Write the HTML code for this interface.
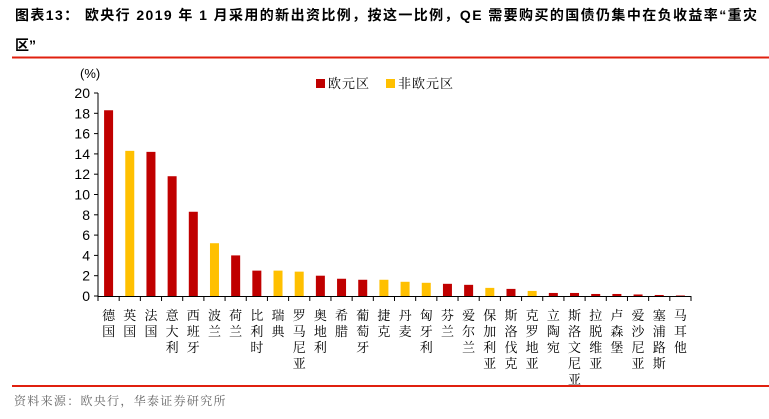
<!DOCTYPE html>
<html><head><meta charset="utf-8"><style>
body{margin:0;background:#fff;width:769px;height:419px;overflow:hidden}
svg{display:block}
</style></head><body>
<svg width="769" height="419" font-family="'Liberation Sans','Noto Sans CJK SC',sans-serif">
<text x="15" y="20" font-size="14" font-weight="bold" fill="#000" textLength="742" lengthAdjust="spacing">图表13：  欧央行 2019 年 1 月采用的新出资比例，按这一比例，QE 需要购买的国债仍集中在负收益率“重灾</text>
<text x="15" y="50" font-size="14" font-weight="bold" fill="#000">区”</text>
<line x1="12" y1="57.5" x2="769" y2="57.5" stroke="#e0200f" stroke-width="2"/>
<text x="80" y="78" font-size="13">(%)</text>
<g id="legend">
<rect x="316" y="79" width="9" height="9" fill="#c00000"/>
<text x="328" y="88" font-size="13" letter-spacing="1" font-family="'Liberation Serif','Noto Serif CJK SC',serif">欧元区</text>
<rect x="386" y="79" width="9" height="9" fill="#ffc000"/>
<text x="398" y="88" font-size="13" letter-spacing="1" font-family="'Liberation Serif','Noto Serif CJK SC',serif">非欧元区</text>
</g>
<g id="plot"></g>
<line x1="12" y1="386" x2="769" y2="386" stroke="#e0200f" stroke-width="2"/>
<text x="14" y="405" font-size="12" fill="#666" letter-spacing="1.3" font-family="'Liberation Serif','Noto Serif CJK SC',serif">资料来源：欧央行，华泰证券研究所</text>
</svg>
<script>
const categories=["德国","英国","法国","意大利","西班牙","波兰","荷兰","比利时","瑞典","罗马尼亚","奥地利","希腊","葡萄牙","捷克","丹麦","匈牙利","芬兰","爱尔兰","保加利亚","斯洛伐克","克罗地亚","立陶宛","斯洛文尼亚","拉脱维亚","卢森堡","爱沙尼亚","塞浦路斯","马耳他"];
const values=[18.3,14.3,14.2,11.8,8.3,5.2,4.0,2.5,2.5,2.4,2.0,1.7,1.6,1.6,1.4,1.3,1.2,1.1,0.8,0.7,0.5,0.3,0.3,0.2,0.2,0.15,0.1,0.05];
const euroArea=[1,0,1,1,1,0,1,1,0,0,1,1,1,0,0,0,1,1,0,1,0,1,1,1,1,1,1,1];
const yTicks=[0,2,4,6,8,10,12,14,16,18,20];
const NS="http://www.w3.org/2000/svg";
const g=document.getElementById("plot");
const x0=98,x1=691,y0=296,y20=93;
const yS=v=>y0-(v/20)*(y0-y20);
const bw=(x1-x0)/categories.length;
const xS=i=>x0+bw*(i+0.5);
function mk(t,a){const e=document.createElementNS(NS,t);for(const k in a)e.setAttribute(k,a[k]);g.appendChild(e);return e;}
let ax=mk("line",{x1:x0,y1:y20,x2:x0,y2:y0,stroke:"#000"});


let bx=mk("line",{x1:x0,y1:y0+0.5,x2:x1,y2:y0+0.5,stroke:"#000"});


yTicks.forEach(v=>{
 const y=yS(v);
 let t=mk("line",{x1:x0-4,y1:y,x2:x0,y2:y,stroke:"#000"});
 
 
 let l=mk("text",{x:x0-8,y:y+5,"font-size":14,"text-anchor":"end"});
 l.textContent=v;
 
 
});
for(let i=0;i<=categories.length;i++){
 let t=mk("line",{x1:x0+bw*i,y1:y0,x2:x0+bw*i,y2:y0+5,stroke:"#000"});
 
 
}
categories.forEach((c,i)=>{
 const v=values[i];
 let r=mk("rect",{x:xS(i)-4.5,y:yS(v),width:9,height:y0-yS(v),fill:euroArea[i]?"#c00000":"#ffc000"});
 
 
 let t=mk("text",{x:xS(i),y:320,"font-size":13,"text-anchor":"middle","font-family":"'Liberation Serif','Noto Serif CJK SC',serif"});
 
 
 [...c].forEach((ch,j)=>{const s=document.createElementNS(NS,"tspan");s.setAttribute("x",xS(i));s.setAttribute("y",320+j*16);s.textContent=ch;t.appendChild(s);});
});
</script>
</body></html>
